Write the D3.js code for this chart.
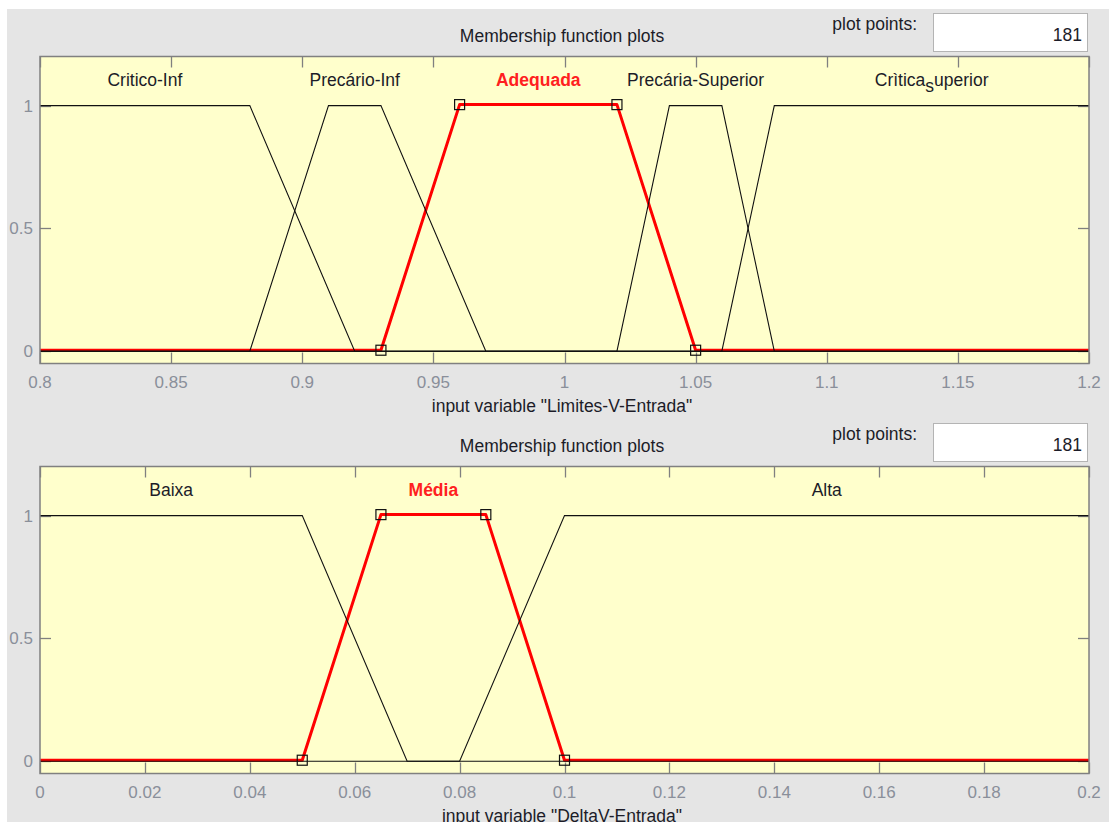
<!DOCTYPE html>
<html>
<head>
<meta charset="utf-8">
<script src="https://cdn.jsdelivr.net/npm/d3@7"></script>
<style>
  html, body { margin: 0; padding: 0; background: #ffffff; }
  svg { display: block; }
  text { font-family: "Liberation Sans", Arial, sans-serif; }
</style>
</head>
<body>
<svg id="chart" width="1109" height="822"></svg>
<script>
// ---- Input 1: Limites-V-Entrada ----
const topVariable = "Limites-V-Entrada";
const topRange = [0.8, 1.2];
const topTicks = [0.8, 0.85, 0.9, 0.95, 1, 1.05, 1.1, 1.15, 1.2];
const topTickLabels = ["0.8", "0.85", "0.9", "0.95", "1", "1.05", "1.1", "1.15", "1.2"];
const topNames = ["Critico-Inf", "Precário-Inf", "Adequada", "Precária-Superior", "Crìtica_superior"];
const topParams = [
  [0.70, 0.75, 0.88, 0.92],
  [0.88, 0.91, 0.93, 0.97],
  [0.93, 0.96, 1.02, 1.05],
  [1.02, 1.04, 1.06, 1.08],
  [1.06, 1.08, 1.20, 1.30]
];
const topSelected = 2;

// ---- Input 2: DeltaV-Entrada ----
const bottomVariable = "DeltaV-Entrada";
const bottomRange = [0, 0.2];
const bottomTicks = [0, 0.02, 0.04, 0.06, 0.08, 0.1, 0.12, 0.14, 0.16, 0.18, 0.2];
const bottomTickLabels = ["0", "0.02", "0.04", "0.06", "0.08", "0.1", "0.12", "0.14", "0.16", "0.18", "0.2"];
const bottomNames = ["Baixa", "Média", "Alta"];
const bottomParams = [
  [-0.10, -0.05, 0.05, 0.07],
  [0.05, 0.065, 0.085, 0.10],
  [0.08, 0.10, 0.20, 0.30]
];
const bottomSelected = 1;

// membership degree axis
const yRange = [-0.05, 1.2];
const yTicks = [0, 0.5, 1];
const yTickLabels = ["0", "0.5", "1"];
const plotPoints = "181";

const svg = d3.select("#chart");

// grey figure background
svg.append("rect").attr("x", 7).attr("y", 9).attr("width", 1109 - 7).attr("height", 822 - 9)
  .attr("fill", "#e5e5e5");

function trap(p, x) {
  const [a, b, c, d] = p;
  const up = b === a ? (x >= a ? 1 : 0) : (x - a) / (b - a);
  const down = d === c ? (x <= d ? 1 : 0) : (d - x) / (d - c);
  return Math.max(0, Math.min(up, 1, down));
}

function mfPoints(p, range) {
  const xs = [range[0], ...p.filter(v => v > range[0] && v < range[1]), range[1]];
  return xs.map(x => [x, trap(p, x)]);
}

function drawPanel(cfg) {
  const oy = cfg.offsetY;
  const left = 40, right = 1089, top = 56.5 + oy, bottom = 363.5 + oy;
  const g = svg.append("g");

  const x = d3.scaleLinear().domain(cfg.range).range([left, right]);
  const y = d3.scaleLinear().domain(yRange).range([bottom, top]);

  // title and plot-points field
  g.append("text").attr("x", 562).attr("y", 42 + oy).attr("text-anchor", "middle")
    .attr("font-size", 17.5).attr("fill", "#1c1c28").text("Membership function plots");
  g.append("text").attr("x", 917).attr("y", 30 + oy).attr("text-anchor", "end")
    .attr("font-size", 17.5).attr("fill", "#1c1c28").text("plot points:");
  g.append("rect").attr("x", 933.5).attr("y", 13.5 + oy).attr("width", 154).attr("height", 38)
    .attr("fill", "#ffffff").attr("stroke", "#b4b4b4").attr("stroke-width", 1);
  g.append("text").attr("x", 1082).attr("y", 41 + oy).attr("text-anchor", "end")
    .attr("font-size", 17.5).attr("fill", "#1c1c28").text(plotPoints);

  // plot area
  g.append("rect").attr("x", left).attr("y", top).attr("width", right - left).attr("height", bottom - top)
    .attr("fill", "#ffffcc");

  const clipId = "clip" + cfg.id;
  g.append("clipPath").attr("id", clipId).append("rect")
    .attr("x", left).attr("y", top).attr("width", right - left).attr("height", bottom - top);

  // ticks inside the box
  const tickLen = 11;
  const tg = g.append("g").attr("stroke", "#808080").attr("stroke-width", 1.3);
  cfg.ticks.forEach(t => {
    const px = Math.round(x(t)) + 0.5;
    tg.append("line").attr("x1", px).attr("x2", px).attr("y1", bottom).attr("y2", bottom - tickLen);
    tg.append("line").attr("x1", px).attr("x2", px).attr("y1", top).attr("y2", top + tickLen);
  });
  yTicks.forEach(t => {
    const py = Math.round(y(t)) + 0.5;
    tg.append("line").attr("x1", left).attr("x2", left + tickLen).attr("y1", py).attr("y2", py);
    tg.append("line").attr("x1", right).attr("x2", right - tickLen).attr("y1", py).attr("y2", py);
  });

  const line = d3.line().x(d => x(d[0])).y(d => y(d[1]));
  const lines = g.append("g").attr("clip-path", `url(#${clipId})`);

  // selected function in red, slightly above the black baseline
  lines.append("path")
    .attr("d", line(mfPoints(cfg.params[cfg.selected], cfg.range)))
    .attr("transform", "translate(0,-1)")
    .attr("fill", "none").attr("stroke", "#ff0000").attr("stroke-width", 3)
    .attr("stroke-linejoin", "round");

  cfg.params.forEach((p, i) => {
    if (i === cfg.selected) return;
    lines.append("path")
      .attr("d", line(mfPoints(p, cfg.range)))
      .attr("fill", "none").attr("stroke", "#111111").attr("stroke-width", 1.1);
  });

  // corner markers of the selected function
  cfg.params[cfg.selected].forEach(v => {
    g.append("rect").attr("x", x(v) - 5).attr("y", y(trap(cfg.params[cfg.selected], v)) - 6)
      .attr("width", 10).attr("height", 10)
      .attr("fill", "none").attr("stroke", "#111111").attr("stroke-width", 1.2);
  });

  // box border
  g.append("rect").attr("x", left).attr("y", top).attr("width", right - left).attr("height", bottom - top)
    .attr("fill", "none").attr("stroke", "#808080").attr("stroke-width", 1.5);

  // function names
  cfg.names.forEach((name, i) => {
    const p = cfg.params[i];
    const cx = (Math.max(p[1], cfg.range[0]) + Math.min(p[2], cfg.range[1])) / 2;
    const sel = i === cfg.selected;
    const t = g.append("text").attr("x", x(cx)).attr("y", 86 + oy).attr("text-anchor", "middle")
      .attr("font-size", 17.5)
      .attr("font-weight", sel ? "bold" : "normal")
      .attr("fill", sel ? "#ff2020" : "#1c1c28");
    const parts = name.split("_");
    if (parts.length === 1) {
      t.text(name);
    } else {
      // TeX-style subscript: the character after "_" is lowered
      t.append("tspan").text(parts[0]);
      t.append("tspan").attr("dy", 6).text(parts[1][0]);
      t.append("tspan").attr("dy", -6).text(parts[1].slice(1));
    }
  });

  // tick labels
  cfg.ticks.forEach((t, i) => {
    g.append("text").attr("x", x(t)).attr("y", bottom + 24).attr("text-anchor", "middle")
      .attr("font-size", 17).attr("fill", "#8a8f9a").text(cfg.tickLabels[i]);
  });
  yTicks.forEach((t, i) => {
    g.append("text").attr("x", 33).attr("y", y(t) + 6).attr("text-anchor", "end")
      .attr("font-size", 17).attr("fill", "#8a8f9a").text(yTickLabels[i]);
  });

  // axis label
  g.append("text").attr("x", 562).attr("y", bottom + 48).attr("text-anchor", "middle")
    .attr("font-size", 17.5).attr("fill", "#1c1c28")
    .text(`input variable "${cfg.variable}"`);
}

drawPanel({ id: 1, offsetY: 0, range: topRange, ticks: topTicks, tickLabels: topTickLabels,
  names: topNames, params: topParams, selected: topSelected, variable: topVariable });
drawPanel({ id: 2, offsetY: 410, range: bottomRange, ticks: bottomTicks, tickLabels: bottomTickLabels,
  names: bottomNames, params: bottomParams, selected: bottomSelected, variable: bottomVariable });
</script>
</body>
</html>
